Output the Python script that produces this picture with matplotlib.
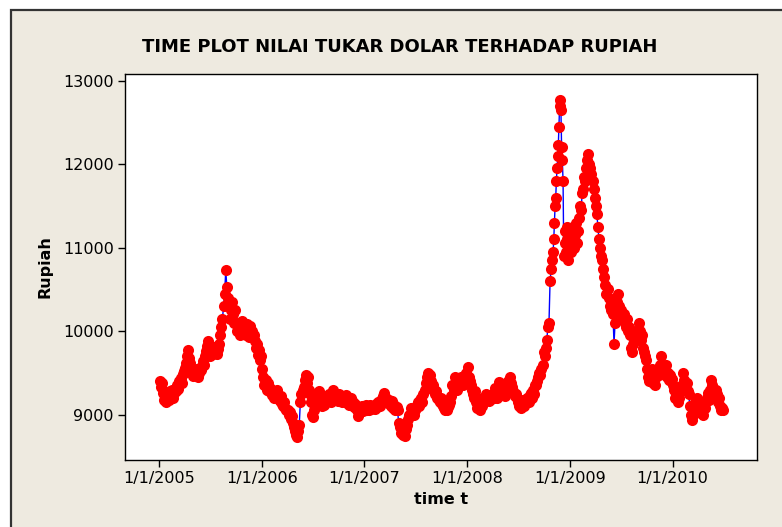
import matplotlib
matplotlib.use("Agg")
import matplotlib.pyplot as plt
from matplotlib.patches import Rectangle
import pandas as pd

# kurs USD -> IDR: per tahun, per bulan (Jan..Des)
kurs_2005 = [
    [9400, 9330, 9380, 9260, 9180, 9230, 9150, 9200],
    [9230, 9170, 9280, 9210, 9290, 9200, 9260, 9300],
    [9280, 9350, 9310, 9400, 9440, 9380, 9490, 9520],
    [9560, 9620, 9700, 9770, 9680, 9620, 9540, 9500],
    [9460, 9520, 9480, 9550, 9450, 9500, 9560, 9530],
    [9580, 9640, 9600, 9700, 9760, 9820, 9880, 9720],
    [9700, 9780, 9730, 9810, 9750, 9800, 9730, 9790],
    [9850, 9950, 10050, 10150, 10300, 10450, 10730, 10530],
    [10400, 10300, 10150, 10250, 10350, 10200, 10100, 10250],
    [10100, 10000, 10080, 9960, 10050, 10120, 9980, 10030],
    [10050, 9950, 10080, 10020, 9930, 10060, 9980, 10000],
    [9950, 9880, 9800, 9850, 9720, 9780, 9660, 9700],
]
kurs_2006 = [
    [9550, 9450, 9350, 9420, 9300, 9380, 9280, 9320],
    [9300, 9240, 9280, 9200, 9260, 9220, 9290, 9240],
    [9200, 9160, 9220, 9130, 9100, 9150, 9080, 9060],
    [9060, 9000, 9030, 8950, 8980, 8900, 8850, 8800],
    [8760, 8730, 8800, 8880, 9150, 9250, 9300, 9330],
    [9420, 9480, 9380, 9450, 9300, 9250, 9150, 9000],
    [8970, 9050, 9150, 9250, 9200, 9280, 9150, 9120],
    [9100, 9180, 9120, 9200, 9150, 9220, 9160, 9250],
    [9150, 9220, 9300, 9200, 9250, 9180, 9220, 9160],
    [9250, 9180, 9220, 9150, 9200, 9170, 9230, 9140],
    [9180, 9120, 9160, 9200, 9110, 9150, 9090, 9130],
    [9080, 9050, 8980, 9020, 9060, 9100, 9040, 9080],
]
kurs_2007 = [
    [9080, 9120, 9060, 9100, 9050, 9110, 9070, 9090],
    [9100, 9070, 9130, 9090, 9150, 9110, 9140, 9100],
    [9180, 9220, 9260, 9150, 9200, 9180, 9140, 9170],
    [9130, 9100, 9160, 9080, 9120, 9060, 9090, 9050],
    [8900, 8850, 8780, 8820, 8760, 8800, 8740, 8830],
    [8880, 8950, 9000, 9080, 9020, 9060, 9000, 9050],
    [9080, 9120, 9150, 9100, 9180, 9200, 9150, 9250],
    [9300, 9380, 9450, 9500, 9430, 9480, 9400, 9350],
    [9350, 9300, 9250, 9280, 9200, 9180, 9150, 9200],
    [9130, 9100, 9080, 9060, 9100, 9050, 9090, 9110],
    [9150, 9220, 9350, 9300, 9450, 9380, 9300, 9350],
    [9380, 9420, 9450, 9400, 9350, 9420, 9480, 9500],
]
kurs_2008 = [
    [9570, 9450, 9400, 9350, 9300, 9250, 9200, 9280],
    [9150, 9080, 9200, 9120, 9060, 9150, 9100, 9180],
    [9200, 9250, 9180, 9220, 9160, 9240, 9190, 9220],
    [9250, 9200, 9320, 9260, 9200, 9300, 9390, 9280],
    [9300, 9250, 9330, 9220, 9350, 9280, 9400, 9320],
    [9450, 9380, 9330, 9280, 9220, 9250, 9200, 9150],
    [9100, 9150, 9080, 9120, 9180, 9100, 9140, 9180],
    [9200, 9150, 9230, 9260, 9200, 9300, 9250, 9350],
    [9350, 9400, 9450, 9500, 9480, 9550, 9600, 9750],
    [9700, 9800, 9900, 10050, 10100, 10600, 10750, 10850],
    [10950, 11100, 11300, 11500, 11600, 11800, 11950, 12100, 12230, 12450, 12700, 12770, 12650],
    [12200, 12050, 11800, 10900, 11050, 11200, 10950, 11100, 11250, 10850, 11000, 11200],
]
kurs_2009 = [
    [10950, 11100, 11250, 11000, 11150, 11300, 11050, 11200],
    [11350, 11500, 11450, 11650, 11700, 11850, 11800, 11950],
    [12050, 12120, 12000, 11950, 11880, 11800, 11700, 11600],
    [11500, 11400, 11250, 11100, 11000, 10900, 10850, 10750],
    [10650, 10550, 10450, 10500, 10400, 10300, 10250, 10350],
    [10200, 9850, 10100, 10250, 10350, 10450, 10300, 10200],
    [10250, 10150, 10200, 10100, 10050, 10150, 10000, 10050],
    [9950, 9800, 9750, 9850, 9930, 9900, 10000, 9950],
    [10100, 10000, 9900, 9950, 9800, 9750, 9700, 9650],
    [9550, 9450, 9400, 9500, 9550, 9380, 9450, 9350],
    [9450, 9500, 9550, 9480, 9600, 9700, 9550, 9500],
    [9550, 9600, 9450, 9500, 9420, 9480, 9400, 9430],
]
kurs_2010 = [
    [9350, 9300, 9200, 9250, 9150, 9200, 9300, 9280],
    [9350, 9500, 9420, 9350, 9300, 9380, 9280, 9250],
    [9100, 9000, 8940, 9000, 9080, 9150, 9120, 9200],
    [9100, 9050, 9020, 9060, 9000, 9100, 9080, 9150],
    [9200, 9260, 9180, 9300, 9420, 9350, 9280, 9300],
    [9300, 9250, 9150, 9200, 9100, 9050, 9080, 9060],
]
tahun = [2005, 2006, 2007, 2008, 2009, 2010]
kurs_per_tahun = [kurs_2005, kurs_2006, kurs_2007, kurs_2008, kurs_2009, kurs_2010]

tick_tahun = [2005, 2006, 2007, 2008, 2009, 2010]
tick_y = [9000, 10000, 11000, 12000, 13000]

# susun jadi deret waktu: nilai dalam satu bulan disebar merata
tanggal, nilai = [], []
for th, data_th in zip(tahun, kurs_per_tahun):
    for bln, vals in enumerate(data_th, start=1):
        awal = pd.Timestamp(th, bln, 1)
        n_hari = awal.days_in_month
        for k, v in enumerate(vals):
            tanggal.append(awal + pd.Timedelta(days=(k + 0.5) * n_hari / len(vals)))
            nilai.append(v)
seri = pd.Series(nilai, index=pd.DatetimeIndex(tanggal))

W, H = 782, 527
fig = plt.figure(figsize=(W / 100, H / 100), dpi=100, facecolor="white")

# bingkai latar krem ala Minitab
bg = Rectangle((11 / W, -0.02), 1.1, 1 - 10 / H + 0.02, transform=fig.transFigure,
               facecolor="#EEEAE0", edgecolor="#333333", lw=1.6, zorder=-5)
fig.add_artist(bg)

ax = fig.add_axes([125 / W, 1 - 460 / H, (757 - 125) / W, (460 - 74) / H])
ax.set_facecolor("white")

ax.plot(seri.index, seri.values, color="#0000FF", lw=1.0, marker="o",
        markersize=8, markerfacecolor="#FF0000", markeredgecolor="#FF0000",
        markeredgewidth=0)

ax.set_xlim(pd.Timestamp("2004-09-02"), pd.Timestamp("2010-10-28"))
ax.set_ylim(8457, 13080)
ax.set_xticks([pd.Timestamp(t, 1, 1) for t in tick_tahun])
ax.set_xticklabels(["1/1/%d" % t for t in tick_tahun])
ax.set_yticks(tick_y)
ax.set_yticklabels([str(v) for v in tick_y])

for s in ax.spines.values():
    s.set_color("black")
    s.set_linewidth(1.0)
ax.tick_params(direction="out", length=5, width=1, labelsize=11.5, pad=3)

ax.set_xlabel("time t", fontsize=11.5, fontweight="bold")
ax.set_ylabel("Rupiah", fontsize=11.5, fontweight="bold")
ax.xaxis.set_label_coords(0.5, (460 - 500) / 386)
ax.xaxis.label.set_va("center")
ax.yaxis.set_label_coords((45 - 125) / 632, 0.5)
ax.yaxis.label.set_va("center")

fig.text(400 / W, 1 - 47 / H, "TIME PLOT NILAI TUKAR DOLAR TERHADAP RUPIAH",
         ha="center", va="center", fontsize=13, fontweight="bold")

fig.savefig("out.png", dpi=100, facecolor=fig.get_facecolor())
